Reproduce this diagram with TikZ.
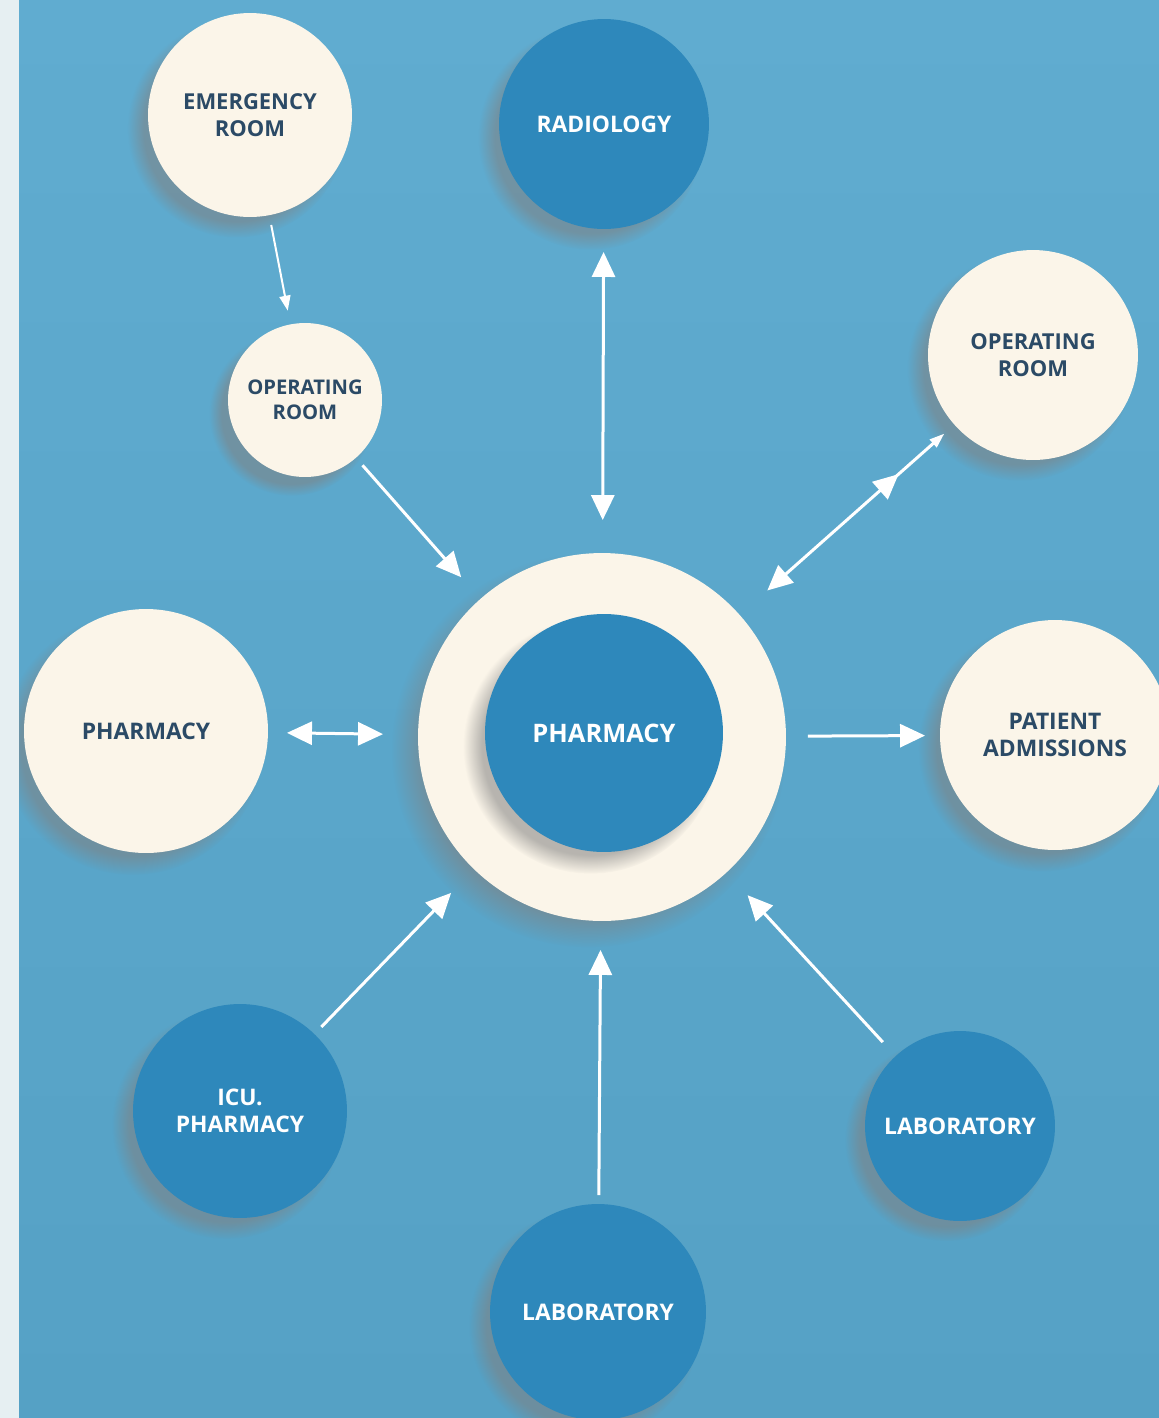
\documentclass[tikz,border=0pt]{standalone}
\usepackage{fontspec}
\setmainfont{Open Sans}
\usetikzlibrary{arrows.meta,shadows,decorations.markings}

\definecolor{stripgray}{HTML}{E6EFF2}
\definecolor{bgblue}{HTML}{55A1C5}
\definecolor{bglight}{HTML}{60ACD0}
\definecolor{cream}{HTML}{FBF5E9}
\definecolor{deepblue}{HTML}{2E88BB}
\definecolor{navy}{HTML}{2B4A66}

\begin{document}
\begin{tikzpicture}[
    x=0.02cm, y=-0.02cm,
    unit/.style={circle, inner sep=0pt, outer sep=0pt, align=center,
        circular drop shadow={shadow xshift=-0.25cm, shadow yshift=-0.25cm, shadow scale=1.07, opacity=0.55}},
    light/.style={unit, fill=cream, text=navy},
    dark/.style={unit, fill=deepblue, text=white},
    txt/.style 2 args={font=\bfseries\fontsize{#1}{#2}\selectfont},
    flow/.style={-{Triangle[length=0.5cm, width=0.46cm]}, line width=0.06cm, draw=white},
    twoway/.style={{Triangle[length=0.5cm, width=0.46cm]}-{Triangle[length=0.5cm, width=0.46cm]}, line width=0.06cm, draw=white}
]
    % Canvas
    \useasboundingbox (0,0) rectangle (1159,1418);
    \shade[top color=bglight, bottom color=bgblue] (19,0) rectangle (1159,1418);
    % Hub
    \node[light, minimum size=7.36cm] (hub) at (602,737) {};
    \node[dark, minimum size=4.76cm, txt={14.5}{18}] (core) at (604,733) {PHARMACY};
    % Departments
    \node[light, minimum size=4.08cm, txt={12.5}{15}] (er) at (250,115) {EMERGENCY\\ROOM};
    \node[dark, minimum size=4.2cm, txt={13}{16}] (radiology) at (604,124) {RADIOLOGY};
    \node[light, minimum size=3.08cm, txt={11.5}{14}] (orsmall) at (305,400) {OPERATING\\ROOM};
    \node[light, minimum size=4.2cm, txt={12.5}{15}] (orright) at (1033,355) {OPERATING\\ROOM};
    \node[light, minimum size=4.88cm, txt={13}{16}] (pharmleft) at (146,731) {PHARMACY};
    \node[light, minimum size=4.6cm, txt={13}{15.5}] (admissions) at (1055,735) {PATIENT\\ADMISSIONS};
    \node[dark, minimum size=4.28cm, txt={13}{15.5}] (icu) at (240,1111) {ICU.\\PHARMACY};
    \node[dark, minimum size=3.8cm, txt={13}{16}] (labright) at (960,1126) {LABORATORY};
    \node[dark, minimum size=4.32cm, txt={13}{16}] (labbottom) at (598,1312) {LABORATORY};
    % Arrows
    \draw[flow, line width=0.04cm, -{Triangle[length=0.3cm, width=0.22cm]}, shorten <=0.2cm, shorten >=0.28cm] (er) -- (orsmall);
    \draw[flow, shorten <=0.2cm, shorten >=0.58cm] (orsmall) -- (hub);
    \draw[twoway, shorten <=0.46cm, shorten >=0.66cm] (radiology) -- (hub);
    \draw[twoway, shorten <=0.74cm, shorten >=0.27cm,
        {Triangle[length=0.5cm, width=0.46cm]}-{Triangle[length=0.3cm, width=0.2cm]},
        postaction={decorate, decoration={markings, mark=at position 0.74 with {\arrow[white]{Triangle[length=0.5cm, width=0.46cm]}}}}] (hub) -- (orright);
    \draw[twoway, shorten <=0.38cm, shorten >=0.7cm] (pharmleft) -- (hub);
    \draw[flow, shorten <=0.44cm, shorten >=0.3cm] (hub) -- (admissions);
    \draw[flow, shorten <=0.2cm, shorten >=0.66cm] (icu) -- (hub);
    \draw[flow, shorten <=0.18cm, shorten >=0.58cm] (labbottom) -- (hub);
    \draw[flow, shorten <=0.38cm, shorten >=0.62cm] (labright) -- (hub);
    % Left margin
    \fill[stripgray] (0,0) rectangle (19,1418);
\end{tikzpicture}
\end{document}
